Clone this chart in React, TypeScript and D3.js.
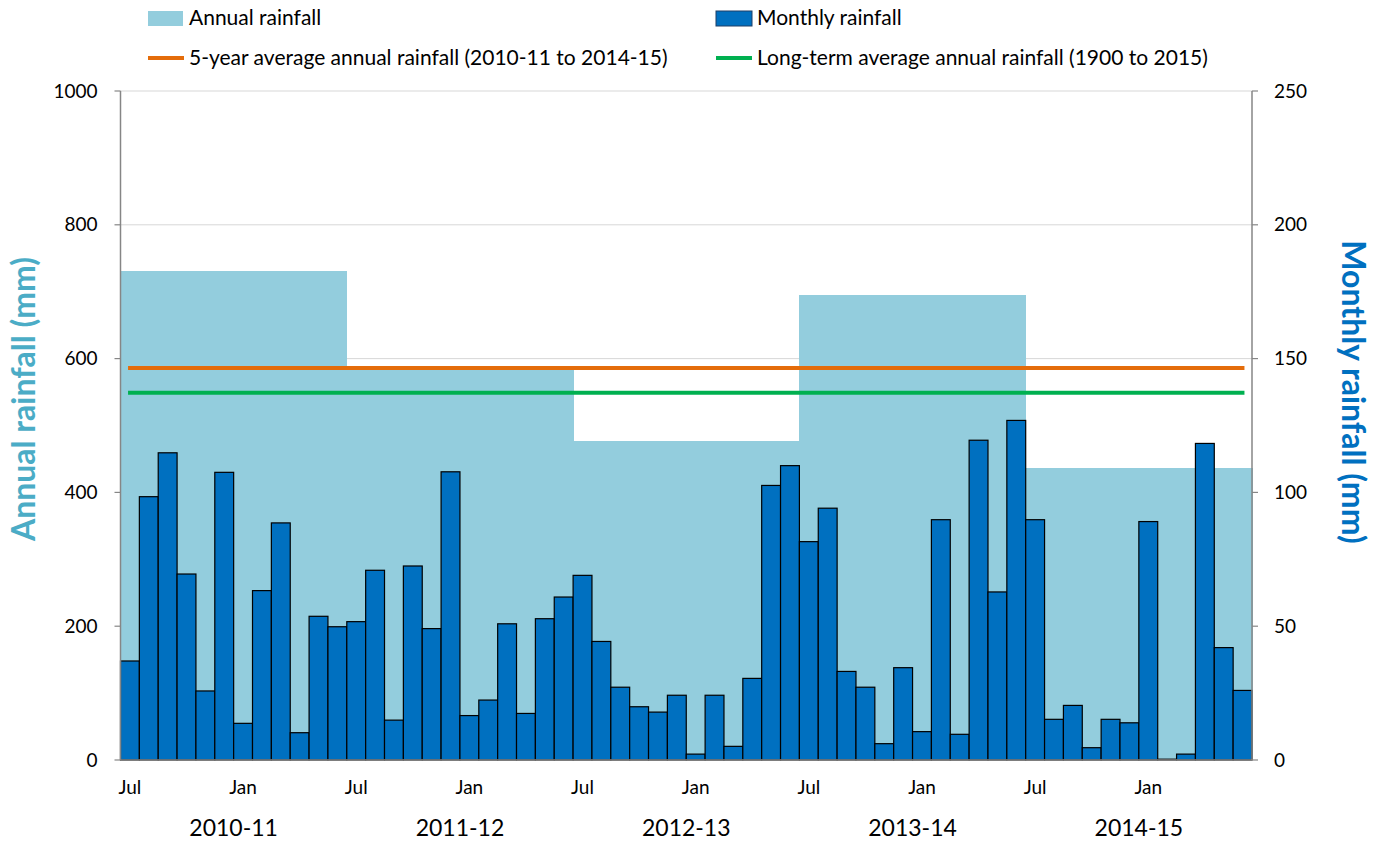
import { scaleBand, scaleLinear } from "d3";

const width = 1381;
const height = 843;
const MARGIN = { top: 91, right: 129, bottom: 83, left: 120.5 };
const boundsWidth = width - MARGIN.left - MARGIN.right;
const boundsHeight = height - MARGIN.top - MARGIN.bottom;

const FONT = "Lato, 'Open Sans', sans-serif";

// financial years (Jul-Jun)
const years = ["2010-11", "2011-12", "2012-13", "2013-14", "2014-15"];
const monthNames = ["Jul", "Aug", "Sep", "Oct", "Nov", "Dec", "Jan", "Feb", "Mar", "Apr", "May", "Jun"];
const annualRainfall = [731, 584, 477, 695, 437];
const fiveYearAverage = 586;
const longTermAverage = 549;
// monthly rainfall, Jul 2010 .. Jun 2015
const monthlyRainfall = [
  37, 98.4, 114.8, 69.5, 25.8, 107.5, 13.7, 63.3, 88.6, 10.2, 53.7, 49.8,
  51.7, 70.9, 14.9, 72.5, 49.1, 107.7, 16.6, 22.4, 50.9, 17.4, 52.8, 60.9,
  69, 44.3, 27.2, 19.9, 17.9, 24.2, 2.2, 24.2, 5.1, 30.5, 102.6, 110,
  81.6, 94.1, 33.1, 27.2, 6.1, 34.5, 10.6, 89.8, 9.6, 119.5, 62.8, 126.9,
  89.8, 15.2, 20.4, 4.6, 15.2, 13.9, 89.1, 0.3, 2.2, 118.3, 42, 26,
];
const annualTicks = [0, 200, 400, 600, 800, 1000];
const monthlyTicks = [0, 50, 100, 150, 200, 250];
const labelledMonths = ["Jul", "Jan"];

const monthKeys = years.flatMap((y) => monthNames.map((m) => `${y}-${m}`));

export default function App() {
  const xScale = scaleBand<string>().domain(monthKeys).range([0, boundsWidth]).padding(0);
  const bw = xScale.bandwidth();
  const yAnnual = scaleLinear().domain([0, 1000]).range([boundsHeight, 0]);
  const yMonthly = scaleLinear().domain([0, 250]).range([boundsHeight, 0]);

  const yearStart = (i: number) => xScale(`${years[i]}-Jul`) ?? 0;
  const yearEnd = (i: number) => (xScale(`${years[i]}-Jun`) ?? 0) + bw;

  return (
    <svg
      width={width}
      height={height}
      viewBox={`0 0 ${width} ${height}`}
      style={{ position: "absolute", left: 0, top: 0, background: "#fff" }}
      fontFamily={FONT}
    >
      {/* legend */}
      <g fontSize={21} fill="#000">
        <rect x={148} y={11} width={35} height={15} fill="#93CDDD" />
        <text x={189} y={25}>Annual rainfall</text>
        <rect x={716} y={11} width={36} height={15} fill="#0070C0" stroke="#1f3f66" strokeWidth={1} />
        <text x={757} y={25}>Monthly rainfall</text>
        <line x1={148} x2={184} y1={58} y2={58} stroke="#E46C0A" strokeWidth={4} />
        <text x={189} y={65}>5-year average annual rainfall (2010-11 to 2014-15)</text>
        <line x1={716} x2={752} y1={58} y2={58} stroke="#00B050" strokeWidth={4} />
        <text x={757} y={65}>Long-term average annual rainfall (1900 to 2015)</text>
      </g>

      <g transform={`translate(${MARGIN.left},${MARGIN.top})`}>
        {/* gridlines */}
        {annualTicks.slice(1).map((t) => (
          <line
            key={t}
            x1={0}
            x2={boundsWidth}
            y1={yAnnual(t)}
            y2={yAnnual(t)}
            stroke="#9a9a9a"
            strokeWidth={0.8}
            strokeDasharray="1,1"
          />
        ))}

        {/* annual rainfall blocks */}
        <g shapeRendering="crispEdges">
          {annualRainfall.map((v, i) => (
            <rect
              key={years[i]}
              x={yearStart(i)}
              y={yAnnual(v)}
              width={yearEnd(i) - yearStart(i) + 0.5}
              height={boundsHeight - yAnnual(v)}
              fill="#93CDDD"
            />
          ))}
        </g>

        {/* average lines */}
        <line
          x1={bw * 0.4}
          x2={boundsWidth - bw * 0.4}
          y1={yAnnual(fiveYearAverage)}
          y2={yAnnual(fiveYearAverage)}
          stroke="#E46C0A"
          strokeWidth={4}
        />
        <line
          x1={bw * 0.4}
          x2={boundsWidth - bw * 0.4}
          y1={yAnnual(longTermAverage)}
          y2={yAnnual(longTermAverage)}
          stroke="#00B050"
          strokeWidth={4}
        />

        {/* monthly bars */}
        {monthlyRainfall.map((v, i) => (
          <rect
            key={monthKeys[i]}
            x={xScale(monthKeys[i])}
            y={yMonthly(v)}
            width={bw}
            height={boundsHeight - yMonthly(v)}
            fill="#0070C0"
            stroke="#000"
            strokeWidth={1.2}
          />
        ))}

        {/* left axis */}
        <line x1={0} x2={0} y1={0} y2={boundsHeight} stroke="#868686" strokeWidth={1.5} />
        {annualTicks.map((t) => (
          <g key={t}>
            <line x1={-6} x2={0} y1={yAnnual(t)} y2={yAnnual(t)} stroke="#868686" strokeWidth={1.2} />
            <text x={-23} y={yAnnual(t)} dy="0.35em" textAnchor="end" fontSize={19}>
              {t}
            </text>
          </g>
        ))}

        {/* right axis */}
        <line x1={boundsWidth} x2={boundsWidth} y1={0} y2={boundsHeight} stroke="#868686" strokeWidth={1.5} />
        {monthlyTicks.map((t) => (
          <g key={t}>
            <line
              x1={boundsWidth}
              x2={boundsWidth + 6}
              y1={yMonthly(t)}
              y2={yMonthly(t)}
              stroke="#868686"
              strokeWidth={1.2}
            />
            <text x={boundsWidth + 22} y={yMonthly(t)} dy="0.35em" textAnchor="start" fontSize={19}>
              {t}
            </text>
          </g>
        ))}

        {/* bottom axis */}
        <line x1={0} x2={boundsWidth} y1={boundsHeight} y2={boundsHeight} stroke="#868686" strokeWidth={1.5} />
        {monthKeys.map((k) => {
          const m = k.slice(-3);
          if (!labelledMonths.includes(m)) return null;
          return (
            <text key={k} x={(xScale(k) ?? 0) + bw / 2} y={boundsHeight + 34} textAnchor="middle" fontSize={19}>
              {m}
            </text>
          );
        })}
        {years.map((y, i) => (
          <text key={y} x={(yearStart(i) + yearEnd(i)) / 2} y={boundsHeight + 76} textAnchor="middle" fontSize={23}>
            {y}
          </text>
        ))}
      </g>

      {/* axis titles */}
      <text
        transform={`translate(35,399) rotate(-90)`}
        textAnchor="middle"
        fontSize={32}
        fontWeight="bold"
        fill="#4BACC6"
      >
        Annual rainfall (mm)
      </text>
      <text
        transform={`translate(1342,392) rotate(90)`}
        textAnchor="middle"
        fontSize={32}
        fontWeight="bold"
        fill="#0070C0"
      >
        Monthly rainfall (mm)
      </text>
    </svg>
  );
}
